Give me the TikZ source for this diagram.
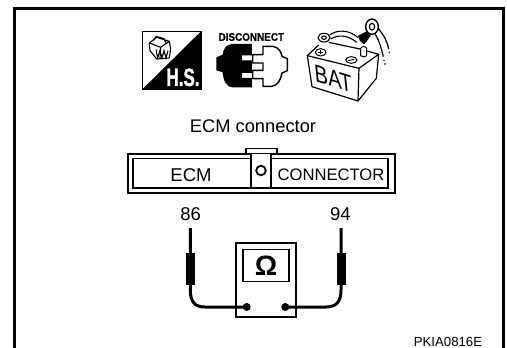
\documentclass[tikz,border=0pt]{standalone}
\usepackage{fontspec}
\setmainfont{Liberation Sans}
\newfontfamily\heavyfont[FakeBold=1.6]{Liberation Sans Bold}
\newfontfamily\semifont[FakeBold=.6]{Liberation Sans Bold}
\tikzset{
  frameln/.style={line width=3.2pt,line cap=butt,line join=miter},
  txt/.style={inner sep=0pt,anchor=center,text=black},
  box/.style={draw=black,line width=1.8pt,fill=white},
  lead/.style={line width=3pt},
  probe/.style={fill=black,draw=none},
}
\newcommand{\fs}[1]{\fontsize{#1}{#1}\selectfont}
\begin{document}
\begin{tikzpicture}[x=1pt,y=-1pt]
\useasboundingbox (0,0) rectangle (507,348);
% frame
\draw[frameln] (14.5,348) -- (14.5,8.5) -- (503.5,8.5) -- (503.5,348);
% H.S. icon
\begin{scope}[shift={(140,28)},x=.3333pt,y=-.3333pt]
  \draw[line width=1.2pt] (8,10) rectangle (183,183);
  \fill (183,10) -- (183,183) -- (8,183) -- cycle;
  \node[txt,text=white,font=\fs{25}\heavyfont,xscale=.68] (hs) at (129,148) {H.S.};
  \draw[line width=1.1pt,line join=round] (28,45) -- (50,28) -- (88,40) -- (92,62) -- (88,90) -- (50,93) -- (30,68) -- cycle
     (28,45) -- (62,58) -- (88,40) (62,58) -- (60,92)
     (40,38) -- (48,25) -- (72,32) -- (78,45);
  \draw[line width=1.1pt] (48,65) -- (53,90) -- (60,68) -- (66,90) -- (72,68) -- (78,90) -- (84,68);
\end{scope}
% DISCONNECT icon
\begin{scope}[shift={(212,28)},x=.3333pt,y=-.3333pt]
  \node[txt,font=\fs{11}\semifont,xscale=.9] (dc) at (118,27) {DISCONNECT};
  \fill (120,48) -- (60,48) .. controls (42,50) and (34,62) .. (32,80) -- (13,88) -- (13,127) -- (32,133)
     .. controls (34,160) and (44,176) .. (60,178) -- (120,178) -- (120,150) -- (90,150) -- (90,135) -- (120,135)
     -- (120,97) -- (90,97) -- (90,82) -- (120,82) -- cycle;
  \draw[line width=1.4pt,line join=round] (153,55) -- (183,55) .. controls (200,58) and (208,72) .. (210,85) -- (226,92) -- (226,128) -- (210,135)
     .. controls (206,155) and (198,172) .. (180,175) -- (153,175) -- (153,152) -- (122,152) -- (122,127) -- (153,127) -- (153,105) -- (122,105) -- (122,80) -- (153,80) -- cycle;
\end{scope}
% Battery icon
\begin{scope}[shift={(298,15)},x=.3333pt,y=-.3333pt]
  \draw[line width=1.2pt,line join=round] (28,122) -- (42,215) -- (180,258) -- (183,160) -- cycle;
  \draw[line width=1.2pt,line join=round] (28,122) -- (62,90) (92,82) -- (186,102) (208,108) -- (242,118) -- (183,160) (242,118) -- (235,190) -- (180,258);
  \draw[line width=1pt] (68,112) ellipse (16 and 11);
  \draw[line width=1pt] (60,112) -- (76,112) (68,106) -- (68,118);
  \draw[line width=1pt] (160,135) ellipse (17 and 10);
  \draw[line width=1pt] (151,137) -- (169,133);
  \draw[line width=1pt,fill=white] (188,122) -- (188,100) .. controls (191,93) and (203,93) .. (206,100) -- (206,122) .. controls (202,127) and (192,127) .. (188,122) -- cycle;
  % clamp and cable
  \draw[line width=1.1pt,fill=white] (78,68) ellipse (18 and 13);
  \draw[line width=1.1pt] (78,68) ellipse (7 and 5);
  \draw[line width=1.1pt] (95,60) .. controls (120,42) and (155,45) .. (180,68);
  \draw[line width=1.1pt] (98,72) .. controls (120,58) and (150,60) .. (176,82);
  \fill (180,62) -- (208,48) -- (218,62) -- (204,82) -- (198,88) -- (186,78) -- cycle;
  % ring and wire
  \draw[line width=1.4pt,fill=white] (222,35) ellipse (19 and 23);
  \draw[line width=1.2pt] (222,35) ellipse (8 and 10);
  \draw[line width=1.2pt] (232,58) .. controls (245,80) and (250,100) .. (256,125);
  \draw[line width=1.2pt] (240,40) .. controls (258,60) and (268,80) .. (272,102);
  \fill (258,136) circle (.8pt) (261,147) circle (.8pt) (274,112) circle (.8pt);
  \node[txt,font=\fs{25},cm={.8,-.25,-.1,1,(0,0)}] (bat) at (106,191) {BAT};
\end{scope}
% title
\node[txt,font=\fs{18.3}] (title) at (253,126) {ECM connector};
% connector
\draw[line width=1.6pt] (246,153) -- (246,148.5) -- (277,148.5) -- (277,153);
\draw[line width=2pt,fill=white] (127.5,153.5) rectangle (395,193);
\draw[line width=1.6pt] (133,158.5) rectangle (388,188);
\draw[box] (251,153.5) rectangle (271,188);
\draw[line width=1.8pt] (261,170.5) circle (4.8pt);
\node[txt,font=\fs{18.5}] (ecm) at (191,175) {ECM};
\node[txt,font=\fs{16.6}] (conn) at (331,174.5) {CONNECTOR};
% labels
\node[txt,font=\fs{18.5}] (n86) at (190.7,214.5) {86};
\node[txt,font=\fs{18.5}] (n94) at (340.3,214.5) {94};
% leads
\coordinate (la) at (190.3,228);
\coordinate (ra) at (341,228);
\node[circle,fill=black,minimum size=8pt,inner sep=0pt] (ld) at (246.7,307) {};
\node[circle,fill=black,minimum size=8pt,inner sep=0pt] (rd) at (285.3,307) {};
% meter
\draw[line width=1.8pt] (236,243) rectangle (296,317);
\draw[line width=1.8pt] (243.3,249.5) rectangle (289,281.5);
\node[txt,font=\fs{28}\bfseries] (om) at (266,266) {Ω};
\draw[lead] (la) -- (190.3,290) .. controls (190.3,302) and (195,307) .. (205,307) -- (ld.center);
\draw[lead] (ra) -- (341,290) .. controls (341,302) and (336,307) .. (326,307) -- (rd.center);
\fill[probe] (186,253) rectangle (195,284.5);
\fill[probe] (336.5,253) rectangle (345.5,284.5);
% code
\node[txt,font=\fs{13.2}] (code) at (448,342) {PKIA0816E};
\end{tikzpicture}
\end{document}
